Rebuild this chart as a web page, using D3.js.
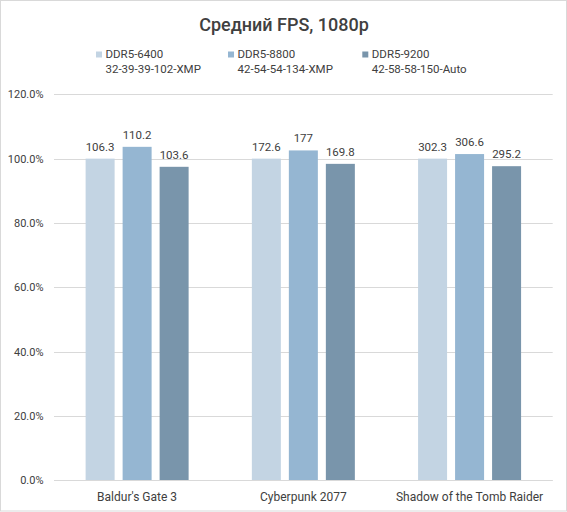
<!DOCTYPE html>
<html>
<head>
<meta charset="utf-8">
<script src="https://cdn.jsdelivr.net/npm/d3@7"></script>
<style>
  body { margin: 0; background: #fff; }
  text { font-family: Roboto, "Noto Sans", sans-serif; fill: #404040; }
</style>
</head>
<body>
<script>
(function () {
    // chart data
    const games = ["Baldur's Gate 3", "Cyberpunk 2077", "Shadow of the Tomb Raider"];
    const seriesNames = ["DDR5-6400", "DDR5-8800", "DDR5-9200"];
    const seriesTimings = ["32-39-39-102-XMP", "42-54-54-134-XMP", "42-58-58-150-Auto"];
    const fps6400 = [106.3, 172.6, 302.3];
    const fps8800 = [110.2, 177, 306.6];
    const fps9200 = [103.6, 169.8, 295.2];
    const yTicks = [0, 20, 40, 60, 80, 100, 120];
    const colors = ["#C3D4E3", "#95B6D2", "#7995AB"];

    const width = 567, height = 512;
    const margin = {top: 94.3, right: 14.3, bottom: 31.7, left: 54};
    const allSeries = [fps6400, fps8800, fps9200];

    const svg = d3.select("body").append("svg")
        .attr("width", width)
        .attr("height", height);

    svg.append("rect")
        .attr("x", 0.5).attr("y", 0.5)
        .attr("width", width - 1).attr("height", height - 1.5)
        .attr("fill", "#fff")
        .attr("stroke", "#d9d9d9");

    const x = d3.scaleBand()
        .domain(games)
        .range([margin.left, width - margin.right]);

    // 3 bars of 29px with 8px gaps
    const groupW = 103;
    const x1 = d3.scaleBand()
        .domain(d3.range(seriesNames.length))
        .range([0, groupW])
        .paddingInner(8 / 37);

    const y = d3.scaleLinear()
        .domain([0, 120])
        .range([height - margin.bottom, margin.top]);

    const barX = (i, s) => x(games[i]) + x.bandwidth() / 2 - groupW / 2 + x1(s);
    const pct = (d, i) => d / fps6400[i] * 100;

    // gridlines
    svg.selectAll(".grid")
        .data(yTicks)
        .enter()
        .append("line")
        .attr("x1", margin.left)
        .attr("x2", width - margin.right)
        .attr("y1", d => Math.round(y(d)) + 0.5)
        .attr("y2", d => Math.round(y(d)) + 0.5)
        .attr("stroke", "#d9d9d9")
        .attr("stroke-width", 1);

    // y tick labels
    svg.selectAll(".ylab")
        .data(yTicks)
        .enter()
        .append("text")
        .attr("x", 43.5)
        .attr("y", d => y(d) + 4)
        .attr("text-anchor", "end")
        .style("font-size", "11px")
        .text(d => d.toFixed(1) + "%");

    // bars, relative to DDR5-6400
    allSeries.forEach(function (vals, s) {
        const g = svg.append("g");
        g.selectAll("rect")
            .data(vals)
            .enter()
            .append("rect")
            .attr("x", (d, i) => barX(i, s))
            .attr("width", x1.bandwidth())
            .attr("y", (d, i) => y(pct(d, i)))
            .attr("height", (d, i) => y(0) - y(pct(d, i)))
            .attr("fill", colors[s]);

        g.selectAll("text")
            .data(vals)
            .enter()
            .append("text")
            .attr("x", (d, i) => barX(i, s) + x1.bandwidth() / 2)
            .attr("y", (d, i) => y(pct(d, i)) - 8)
            .attr("text-anchor", "middle")
            .style("font-size", "11.5px")
            .text(d => d);
    });

    // x axis
    svg.append("line")
        .attr("x1", margin.left)
        .attr("x2", width - margin.right)
        .attr("y1", Math.round(y(0)) + 0.5)
        .attr("y2", Math.round(y(0)) + 0.5)
        .attr("stroke", "#d9d9d9");

    svg.selectAll(".xlab")
        .data(games)
        .enter()
        .append("text")
        .attr("x", d => x(d) + x.bandwidth() / 2)
        .attr("y", 501)
        .attr("text-anchor", "middle")
        .style("font-size", "12px")
        .text(d => d);

    // title
    svg.append("text")
        .attr("x", 284)
        .attr("y", 31)
        .attr("text-anchor", "middle")
        .style("font-size", "18px")
        .style("font-weight", "500")
        .text("Средний FPS, 1080p");

    // legend
    const legX = [96, 228, 362.3];
    seriesNames.forEach(function (name, s) {
        svg.append("rect")
            .attr("x", legX[s])
            .attr("y", 51.5)
            .attr("width", 6)
            .attr("height", 6)
            .attr("fill", colors[s]);
        svg.append("text")
            .attr("x", legX[s] + 9.5)
            .attr("y", 58)
            .style("font-size", "11.5px")
            .text(name);
        svg.append("text")
            .attr("x", legX[s] + 9.5)
            .attr("y", 73)
            .style("font-size", "11.5px")
            .text(seriesTimings[s]);
    });
})();
</script>
</body>
</html>
